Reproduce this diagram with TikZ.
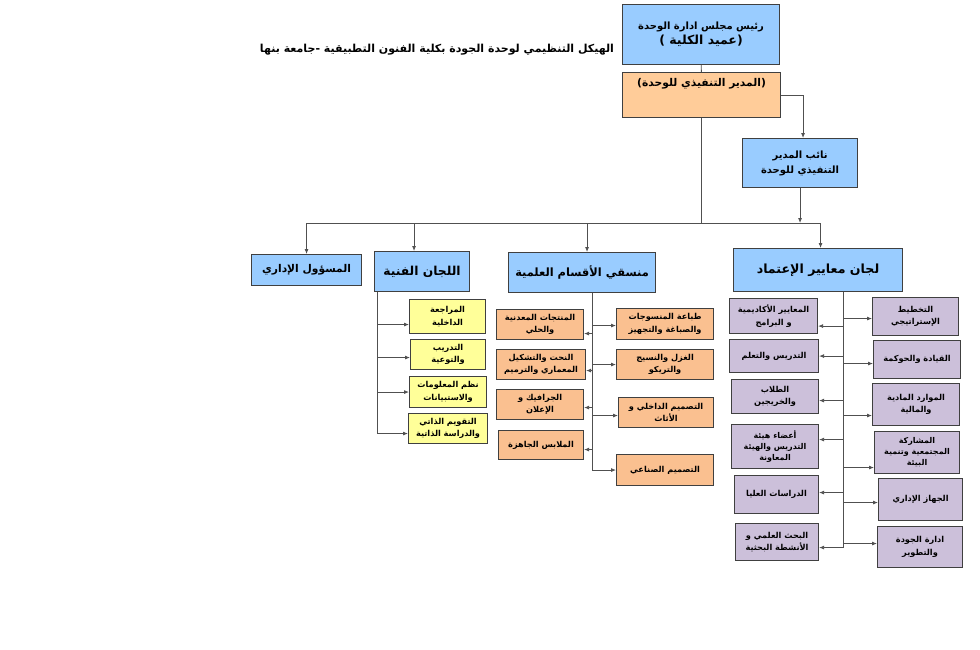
\documentclass[tikz,border=0pt]{standalone}
\usepackage{fontspec}
\usepackage{xcolor}
\usepackage{tikz}
\usetikzlibrary{arrows.meta, positioning, calc}

\newfontfamily\arabicfont[Script=Arabic]{DejaVu Sans}
\TeXXeTstate=1
\newcommand{\artx}[1]{\beginR#1\endR}

\definecolor{boxblue}{HTML}{99CCFF}
\definecolor{execorange}{HTML}{FFCC99}
\definecolor{deptorange}{HTML}{FAC090}
\definecolor{commyellow}{HTML}{FFFF99}
\definecolor{stdlilac}{HTML}{CCC0DA}
\definecolor{edge}{HTML}{404040}
\definecolor{wire}{HTML}{505050}

\begin{document}
\begin{tikzpicture}[
      x=1pt, y=-1pt, >={Latex[length=5pt,width=4pt]},
      box/.style={draw=edge, line width=1.1pt, align=center, inner sep=1pt, anchor=north west,
        font=\arabicfont\bfseries\fontsize{8.2}{12.5}\selectfont},
      sz/.style 2 args={minimum width=#1pt, minimum height=#2pt},
      head/.style={box, fill=boxblue, font=\arabicfont\bfseries\fontsize{12}{14}\selectfont},
      comm/.style={box, fill=commyellow},
      dept/.style={box, fill=deptorange},
      std/.style={box, fill=stdlilac},
      ln/.style={draw=wire, line width=0.8pt},
      arr/.style={ln, ->},
    ]
      \useasboundingbox (0,0) rectangle (980,649);

      % title
      \node[font=\arabicfont\bfseries\fontsize{11}{13}\selectfont] (title) at (437,50)
        {\artx{الهيكل التنظيمي لوحدة الجودة بكلية الفنون التطبيقية -جامعة بنها}};

      % top of the unit
      \node[box, fill=boxblue, sz={157}{60}, font=\arabicfont\bfseries\fontsize{10}{13}\selectfont] (chair) at (622,4)
        {\artx{رئيس مجلس ادارة الوحدة}\\[2pt] {\fontsize{12.5}{14}\selectfont\artx{(عميد الكلية )}}};
      \node[box, fill=execorange, sz={158}{45}, text depth=26pt, font=\arabicfont\bfseries\fontsize{10.7}{13}\selectfont] (exec) at (622,72)
        {\artx{(المدير التنفيذي للوحدة)}};
      \node[box, fill=boxblue, sz={115}{49}, font=\arabicfont\bfseries\fontsize{10}{15}\selectfont] (dep) at (742,138)
        {\artx{نائب المدير}\\ \artx{التنفيذي للوحدة}};

      % second level
      \node[head, sz={110}{31}, font=\arabicfont\bfseries\fontsize{10.7}{13}\selectfont] (admin) at (251,254) {\artx{المسؤول الإداري}};
      \node[head, sz={95}{40}, font=\arabicfont\bfseries\fontsize{12.3}{14}\selectfont] (tech) at (374,251) {\artx{اللجان الفنية}};
      \node[head, sz={147}{40}, font=\arabicfont\bfseries\fontsize{11.4}{14}\selectfont] (coord) at (508,252) {\artx{منسقي الأقسام العلمية}};
      \node[head, sz={169}{43}, font=\arabicfont\bfseries\fontsize{12.6}{14}\selectfont] (accr) at (733,248) {\artx{لجان معايير الإعتماد}};

      % technical committees
      \node[comm, sz={76}{34}] (c1) at (409,299) {\artx{المراجعة}\\ \artx{الداخلية}};
      \node[comm, sz={75}{30}] (c2) at (410,339) {\artx{التدريب}\\ \artx{والتوعية}};
      \node[comm, sz={77}{31}] (c3) at (409,376) {\artx{نظم المعلومات}\\ \artx{والاستبيانات}};
      \node[comm, sz={79}{30}] (c4) at (408,413) {\artx{التقويم الذاتي}\\ \artx{والدراسة الذاتية}};

      % departments
      \node[dept, sz={87}{30}] (m1) at (496,309) {\artx{المنتجات المعدنية}\\ \artx{والحلي}};
      \node[dept, sz={89}{30}] (m2) at (496,349) {\artx{النحت والتشكيل}\\ \artx{المعماري والترميم}};
      \node[dept, sz={87}{30}] (m3) at (496,389) {\artx{الجرافيك و}\\ \artx{الإعلان}};
      \node[dept, sz={85}{29}] (m4) at (498,430) {\artx{الملابس الجاهزة}};
      \node[dept, sz={97}{31}] (r1) at (616,308) {\artx{طباعة المنسوجات}\\ \artx{والصباغة والتجهيز}};
      \node[dept, sz={97}{30}] (r2) at (616,349) {\artx{الغزل والنسيج}\\ \artx{والتريكو}};
      \node[dept, sz={95}{30}] (r3) at (618,397) {\artx{التصميم الداخلي و}\\ \artx{الأثاث}};
      \node[dept, sz={97}{31}] (r4) at (616,454) {\artx{التصميم الصناعي}};

      % accreditation standards
      \node[std, sz={88}{35}] (a1) at (729,298) {\artx{المعايير الأكاديمية}\\ \artx{و البرامج}};
      \node[std, sz={89}{33}] (a2) at (729,339) {\artx{التدريس والتعلم}};
      \node[std, sz={87}{34}] (a3) at (731,379) {\artx{الطلاب}\\ \artx{والخريجين}};
      \node[std, sz={87}{44}, font=\arabicfont\bfseries\fontsize{8}{11}\selectfont] (a4) at (731,424)
        {\artx{أعضاء هيئة}\\ \artx{التدريس والهيئة}\\ \artx{المعاونة}};
      \node[std, sz={84}{38}] (a5) at (734,475) {\artx{الدراسات العليا}};
      \node[std, sz={83}{37}] (a6) at (735,523) {\artx{البحث العلمي و}\\ \artx{الأنشطة البحثية}};
      \node[std, sz={86}{38}] (b1) at (872,297) {\artx{التخطيط}\\ \artx{الإستراتيجي}};
      \node[std, sz={87}{38}] (b2) at (873,340) {\artx{القيادة والحوكمة}};
      \node[std, sz={87}{42}] (b3) at (872,383) {\artx{الموارد المادية}\\ \artx{والمالية}};
      \node[std, sz={85}{42}, font=\arabicfont\bfseries\fontsize{8}{11}\selectfont] (b4) at (874,431)
        {\artx{المشاركة}\\ \artx{المجتمعية وتنمية}\\ \artx{البيئة}};
      \node[std, sz={84}{42}] (b5) at (878,478) {\artx{الجهاز الإداري}};
      \node[std, sz={85}{41}] (b6) at (877,526) {\artx{ادارة الجودة}\\ \artx{والتطوير}};

      % main links
      \coordinate (bus) at (0,223);
      \draw[ln] (chair) -- (exec);
      \draw[ln] (exec.south) -- (exec.south |- bus);
      \draw[arr] (exec.east) -| ([xshift=3pt]dep.north);
      \draw[arr] (dep.south) -- (dep.south |- bus);
      \draw[ln] (admin.north |- bus) -- ([xshift=2.5pt]accr.north |- bus);
      \draw[arr] (admin.north |- bus) -- (admin.north);
      \draw[arr] ([xshift=-8pt]tech.north |- bus) -- ([xshift=-8pt]tech.north);
      \draw[arr] ([xshift=5pt]coord.north |- bus) -- ([xshift=5pt]coord.north);
      \draw[arr] ([xshift=2.5pt]accr.north |- bus) -- ([xshift=2.5pt]accr.north);

      % committees column
      \coordinate (ctr) at ([xshift=3pt]tech.south west);
      \draw[ln] (ctr) -- ([yshift=-5pt]c4.west -| ctr);
      \draw[arr] ([yshift=-8pt]c1.west -| ctr) -- ([yshift=-8pt]c1.west);
      \draw[arr] ([yshift=-3pt]c2.west -| ctr) -- ([yshift=-3pt]c2.west);
      \draw[arr] (c3.west -| ctr) -- (c3.west);
      \draw[arr] ([yshift=-5pt]c4.west -| ctr) -- ([yshift=-5pt]c4.west);

      % departments column
      \coordinate (mtr) at ([xshift=10pt]coord.south);
      \draw[ln] (mtr) -- (r4.west -| mtr);
      \draw[arr] ([yshift=-9pt]m1.east -| mtr) -- ([yshift=-9pt]m1.east);
      \draw[arr] ([yshift=-6pt]m2.east -| mtr) -- ([yshift=-6pt]m2.east);
      \draw[arr] ([yshift=-3pt]m3.east -| mtr) -- ([yshift=-3pt]m3.east);
      \draw[arr] ([yshift=-4.5pt]m4.east -| mtr) -- ([yshift=-4.5pt]m4.east);
      \draw[arr] ([yshift=-1.5pt]r1.west -| mtr) -- ([yshift=-1.5pt]r1.west);
      \draw[arr] (r2.west -| mtr) -- (r2.west);
      \draw[arr] ([yshift=-3pt]r3.west -| mtr) -- ([yshift=-3pt]r3.west);
      \draw[arr] (r4.west -| mtr) -- (r4.west);

      % accreditation column
      \coordinate (atr) at ([xshift=25pt]accr.south);
      \draw[ln] (atr) -- ([yshift=-5.5pt]a6.east -| atr);
      \draw[arr] ([yshift=-10pt]a1.east -| atr) -- ([yshift=-10pt]a1.east);
      \draw[arr] (a2.east -| atr) -- (a2.east);
      \draw[arr] ([yshift=-4pt]a3.east -| atr) -- ([yshift=-4pt]a3.east);
      \draw[arr] ([yshift=7pt]a4.east -| atr) -- ([yshift=7pt]a4.east);
      \draw[arr] ([yshift=2pt]a5.east -| atr) -- ([yshift=2pt]a5.east);
      \draw[arr] ([yshift=-5.5pt]a6.east -| atr) -- ([yshift=-5.5pt]a6.east);
      \draw[arr] ([yshift=-2pt]b1.west -| atr) -- ([yshift=-2pt]b1.west);
      \draw[arr] ([yshift=-4pt]b2.west -| atr) -- ([yshift=-4pt]b2.west);
      \draw[arr] ([yshift=-11pt]b3.west -| atr) -- ([yshift=-11pt]b3.west);
      \draw[arr] ([yshift=-15pt]b4.west -| atr) -- ([yshift=-15pt]b4.west);
      \draw[arr] ([yshift=-3pt]b5.west -| atr) -- ([yshift=-3pt]b5.west);
      \draw[arr] ([yshift=3.5pt]b6.west -| atr) -- ([yshift=3.5pt]b6.west);
    \end{tikzpicture}
\end{document}
